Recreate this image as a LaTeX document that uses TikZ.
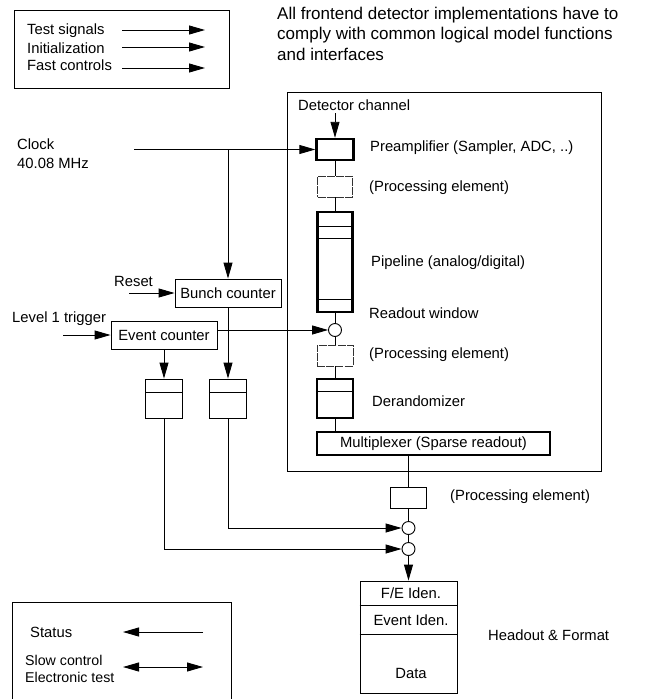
\documentclass[tikz,border=0pt]{standalone}
\usepackage{fontspec}
\setmainfont{Liberation Sans}
\usetikzlibrary{arrows.meta,calc}
\begin{document}
\begin{tikzpicture}[x=1pt,y=-1pt,
  lbl/.style={font=\fontsize{14.8}{17}\selectfont, inner sep=0pt},
  thinbox/.style={draw, line width=0.9pt, inner sep=0pt, font=\fontsize{14.8}{17}\selectfont},
  thickbox/.style={draw, line width=2.4pt, inner sep=0pt, font=\fontsize{14.8}{17}\selectfont},
  pebox/.style={draw=black!80, line width=0.7pt, dash pattern=on 8pt off 1.2pt, inner sep=0pt},
  junction/.style={draw, circle, line width=0.9pt, minimum size=13pt, inner sep=0pt},
  wire/.style={line width=0.9pt},
  headtip/.tip={Triangle[length=16pt,width=9pt]},
  arr/.style={wire, -headtip},
  darr/.style={wire, headtip-headtip}]
\useasboundingbox[fill=white] (0,0) rectangle (649,699);

% ---------- legend (top left) ----------
\node[thinbox, minimum width=215, minimum height=78] (leg1) at (121.5,49) {};
\node[lbl, anchor=west] (ts) at (27,31) {Test signals};
\node[lbl, anchor=west] (ini) at (27,48) {Initialization};
\node[lbl, anchor=west] (fc) at (27,65) {Fast controls};
\coordinate (tsa) at (122,30);  \coordinate (tsb) at (205,30);
\coordinate (inia) at (122,47); \coordinate (inib) at (205,47);
\coordinate (fca) at (122,68);  \coordinate (fcb) at (205,68);
\draw[arr] (tsa) -- (tsb);
\draw[arr] (inia) -- (inib);
\draw[arr] (fca) -- (fcb);

% ---------- heading ----------
\node[anchor=west, inner sep=0pt, align=left, font=\fontsize{17}{20.5}\selectfont] (head) at (277,33.5)
  {All frontend detector implementations have to\\comply with common logical model functions\\and interfaces};

% ---------- front-end model frame ----------
\node[draw, line width=0.7pt, minimum width=314, minimum height=379, inner sep=0pt] (frame) at (444,281.5) {};

% ---------- channel chain ----------
\node[lbl, anchor=west] (dctext) at (298,105) {Detector channel};
\coordinate (dc) at (335,113);
\node[thickbox, minimum width=37, minimum height=21] (preamp) at (335,149.5) {};
\node[pebox, minimum width=35, minimum height=21] (pe1) at (335,186.5) {};
\node[thickbox, minimum width=35, minimum height=100] (pipe) at (335,262) {};
\node[junction] (rw) at (335,330) {};
\node[pebox, minimum width=36, minimum height=21] (pe2) at (335,355.5) {};
\node[thickbox, minimum width=36, minimum height=39] (derand) at (335,398.5) {};
\node[thickbox, minimum width=233, minimum height=23] (mux) at (433.5,443.5) {Multiplexer (Sparse readout)};

% inner divisions
\draw[wire] (pipe.west |- 0,226) -- (pipe.east |- 0,226);
\draw[wire] (pipe.west |- 0,238) -- (pipe.east |- 0,238);
\draw[wire] (pipe.west |- 0,299) -- (pipe.east |- 0,299);
\draw[wire] (derand.west |- 0,391) -- (derand.east |- 0,391);

\node[lbl, anchor=west] at (370,148) {Preamplifier (Sampler, ADC, ..)};
\node[lbl, anchor=west] at (369,188) {(Processing element)};
\node[lbl, anchor=west] at (371,263) {Pipeline (analog/digital)};
\node[lbl, anchor=west] at (369,313) {Readout window};
\node[lbl, anchor=west] at (369,355) {(Processing element)};
\node[lbl, anchor=west] at (372,401) {Derandomizer};

\draw[arr] (dc) -- (preamp.north);
\draw[wire] (preamp.south) -- (pe1.north);
\draw[wire] (pe1.south) -- (pipe.north);
\draw[wire] (pipe.south) -- (rw.north);
\draw[wire] (rw.south) -- (pe2.north);
\draw[wire] (pe2.south) -- (derand.north);
\draw[wire] (derand.south) -- (derand.south |- mux.north);

% ---------- readout path ----------
\node[thinbox, minimum width=36, minimum height=21] (pe3) at (408.5,497.5) {};
\node[lbl, anchor=west] at (450,497) {(Processing element)};
\node[junction] (c1) at (408.5,528) {};
\node[junction] (c2) at (408.5,549) {};
\node[thinbox, minimum width=97, minimum height=112] (out) at (408.5,637) {};
\draw[wire] (out.west |- 0,605) -- (out.east |- 0,605);
\draw[wire] (out.west |- 0,634) -- (out.east |- 0,634);
\node[lbl] (fe) at (411,593) {F/E Iden.};
\node[lbl] (evid) at (411,620) {Event Iden.};
\node[lbl] (data) at (411,673) {Data};
\node[lbl, anchor=west] (rf) at (488,635) {Headout \& Format};

\draw[wire] (pe3.north |- mux.south) -- (pe3.north);
\draw[wire] (pe3.south) -- (c1.north);
\draw[wire] (c1.south) -- (c2.north);
\draw[arr] (c2.south) -- (out.north);

% ---------- timing and trigger ----------
\node[lbl, anchor=west, align=left, font=\fontsize{14.8}{19}\selectfont] (clk) at (17,154) {Clock\\40.08 MHz};
\coordinate (clkin) at (134,149.5);
\node[thinbox, minimum width=106, minimum height=28] (bunch) at (228,293) {Bunch counter};
\node[thinbox, minimum width=106, minimum height=28] (event) at (164,335) {Event counter};
\node[lbl, anchor=west] (rsttext) at (114,281) {Reset};
\node[lbl, anchor=west] (l1text) at (12,319) {Level 1 trigger};
\coordinate (rst) at (129,293);
\coordinate (l1) at (63,335);
\node[thinbox, minimum width=37, minimum height=39] (fifo1) at (164,398.5) {};
\node[thinbox, minimum width=37, minimum height=39] (fifo2) at (228,398.5) {};
\draw[wire] (fifo1.west |- 0,392) -- (fifo1.east |- 0,392);
\draw[wire] (fifo2.west |- 0,392) -- (fifo2.east |- 0,392);

\draw[arr] (clkin) -- (preamp.west);
\draw[arr] (bunch.north |- clkin) -- (bunch.north);
\draw[arr] (rst) -- (bunch.west);
\draw[arr] (l1) -- (event.west);
\draw[arr] (rw -| event.east) -- (rw.west);
\draw[arr] (event.south) -- (fifo1.north);
\draw[arr] (bunch.south) -- (fifo2.north);
\draw[arr] (fifo2.south) |- (c1.west);
\draw[arr] (fifo1.south) |- (c2.west);

% ---------- legend (bottom left) ----------
\draw[line width=0.9pt] (12,700) -- (12,602) -- (231,602) -- (231,700);
\node[lbl, anchor=west] (st) at (30,632) {Status};
\node[lbl, anchor=west, align=left, font=\fontsize{14.2}{17}\selectfont] (sc) at (25,668.5) {Slow control\\Electronic test};
\coordinate (sta) at (203,632); \coordinate (stb) at (123,632);
\coordinate (sca) at (123,667); \coordinate (scb) at (203,667);
\draw[arr] (sta) -- (stb);
\draw[darr] (sca) -- (scb);
\end{tikzpicture}
\end{document}
